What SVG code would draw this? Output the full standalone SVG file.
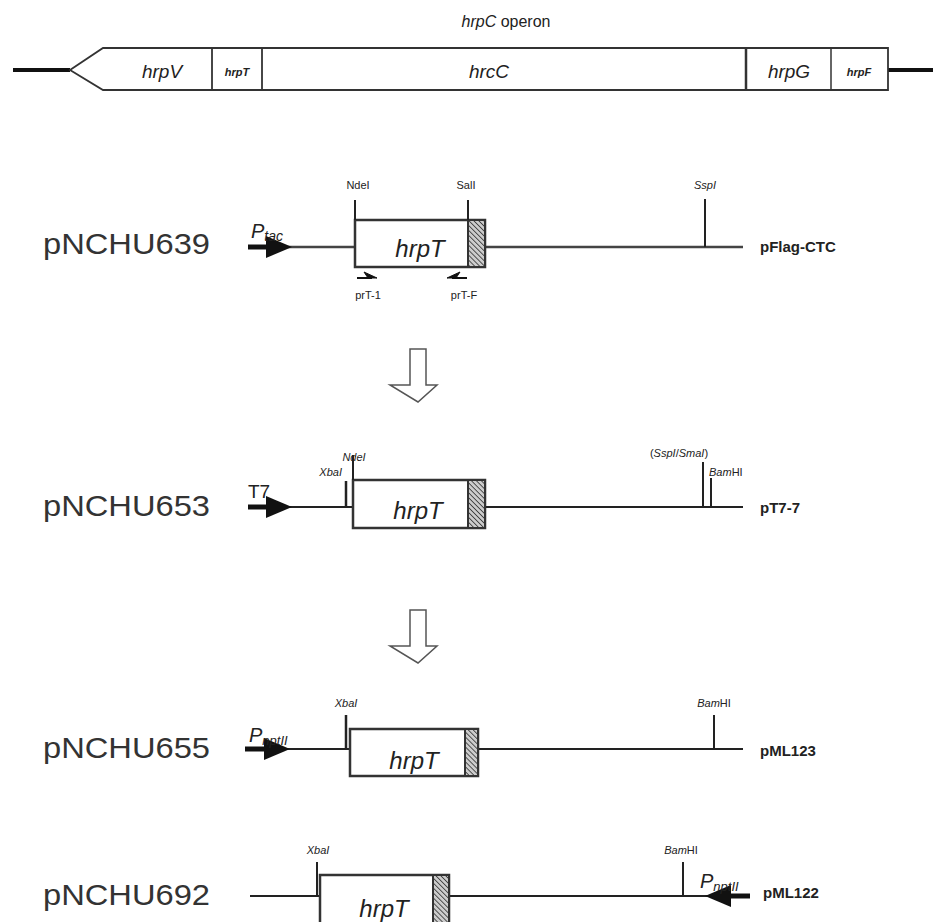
<svg xmlns="http://www.w3.org/2000/svg" width="933" height="922" viewBox="0 0 933 922">
<style>
text{font-family:"Liberation Sans",Arial,sans-serif;fill:#222}
.it{font-style:italic}
.bb{stroke:#444;stroke-width:2.5;fill:none}
.tk{stroke:#222;stroke-width:2;fill:none}
.box{fill:#fff;stroke:#333;stroke-width:2.5}
.name{font-size:30px;fill:#333}
.vec{font-size:15px;font-weight:bold}
.site{font-size:11px;font-style:italic}
.gene{font-size:24px;font-style:italic}
.prom{fill:#111}
</style>
<defs>
<pattern id="hatch" patternUnits="userSpaceOnUse" width="3.5" height="3.5" patternTransform="rotate(-45)">
<rect width="3.5" height="3.5" fill="#ccc"/>
<line x1="0" y1="0" x2="0" y2="3.5" stroke="#333" stroke-width="1.6"/>
</pattern>
</defs>

<g id="operon">
<text x="506" y="27" font-size="16" text-anchor="middle"><tspan class="it">hrpC</tspan> operon</text>
<line x1="13" y1="70" x2="70" y2="70" stroke="#111" stroke-width="4"/>
<line x1="888" y1="70" x2="933" y2="70" stroke="#111" stroke-width="4"/>
<path d="M70,70 L103,48 L888,48 L888,90 L103,90 Z" fill="#fff" stroke="#333" stroke-width="1.8"/>
<line x1="212" y1="48" x2="212" y2="90" stroke="#333" stroke-width="1.8"/>
<line x1="262" y1="48" x2="262" y2="90" stroke="#333" stroke-width="1.8"/>
<line x1="746" y1="48" x2="746" y2="90" stroke="#333" stroke-width="2.5"/>
<line x1="831" y1="48" x2="831" y2="90" stroke="#333" stroke-width="1.5"/>
<text x="162" y="78" font-size="19" class="it" text-anchor="middle">hrpV</text>
<text x="237" y="76" font-size="11" font-weight="bold" class="it" text-anchor="middle">hrpT</text>
<text x="489" y="78" font-size="19" class="it" text-anchor="middle">hrcC</text>
<text x="789" y="78" font-size="19" class="it" text-anchor="middle">hrpG</text>
<text x="859" y="76" font-size="11" font-weight="bold" class="it" text-anchor="middle">hrpF</text>
</g>

<g id="pNCHU639">
<text x="43" y="254" class="name" textLength="167" lengthAdjust="spacingAndGlyphs">pNCHU639</text>
<line x1="248" y1="247" x2="355" y2="247" class="bb"/>
<line x1="248" y1="247" x2="272" y2="247" stroke="#111" stroke-width="5"/>
<path d="M266,236 L292,247 L266,258 Z" class="prom"/>
<text x="251" y="238" font-size="20" class="it">P<tspan font-size="14" dy="3">tac</tspan></text>
<line x1="485" y1="247" x2="743" y2="247" class="bb"/>
<rect x="355" y="220" width="130" height="47" class="box"/>
<rect x="468" y="220" width="17" height="47" fill="url(#hatch)" stroke="#333" stroke-width="2"/>
<line x1="355" y1="200" x2="355" y2="220" class="tk"/>
<line x1="468" y1="200" x2="468" y2="220" class="tk"/>
<line x1="705" y1="199" x2="705" y2="247" class="tk"/>
<text x="358" y="189" font-size="11" text-anchor="middle">NdeI</text>
<text x="466" y="189" font-size="11" text-anchor="middle">SalI</text>
<text x="705" y="189" class="site" text-anchor="middle">SspI</text>
<text x="420" y="257" class="gene" text-anchor="middle">hrpT</text>
<text x="760" y="252" class="vec">pFlag-CTC</text>
<line x1="357" y1="278" x2="372" y2="278" stroke="#111" stroke-width="2"/>
<path d="M377,278 L364,272 L368,278 Z" fill="#111" stroke="#111" stroke-width="1"/>
<line x1="452" y1="278" x2="467" y2="278" stroke="#111" stroke-width="2"/>
<path d="M447,278 L460,272 L456,278 Z" fill="#111" stroke="#111" stroke-width="1"/>
<text x="368" y="299" font-size="11" text-anchor="middle">prT-1</text>
<text x="464" y="299" font-size="11" text-anchor="middle">prT-F</text>
</g>

<g id="pNCHU653">
<text x="43" y="516" class="name" textLength="167" lengthAdjust="spacingAndGlyphs">pNCHU653</text>
<line x1="248" y1="507" x2="353" y2="507" class="tk"/>
<line x1="248" y1="507" x2="272" y2="507" stroke="#111" stroke-width="5"/>
<path d="M266,496 L292,507 L266,518 Z" class="prom"/>
<text x="248" y="498" font-size="19">T7</text>
<line x1="485" y1="507" x2="743" y2="507" class="tk"/>
<rect x="353" y="480" width="132" height="48" class="box"/>
<rect x="468" y="480" width="17" height="48" fill="url(#hatch)" stroke="#333" stroke-width="2"/>
<line x1="346" y1="481" x2="346" y2="507" stroke="#222" stroke-width="2.5"/>
<line x1="353" y1="455" x2="353" y2="480" class="tk"/>
<text x="342" y="476" font-size="11" class="it" text-anchor="end">XbaI</text>
<text x="354" y="461" font-size="11" class="it" text-anchor="middle">NdeI</text>
<line x1="703" y1="462" x2="703" y2="507" class="tk"/>
<line x1="711" y1="478" x2="711" y2="507" class="tk"/>
<text x="679" y="457" font-size="11" text-anchor="middle">(<tspan class="it">SspI</tspan>/<tspan class="it">SmaI</tspan>)</text>
<text x="709" y="476" font-size="11"><tspan class="it">Bam</tspan>HI</text>
<text x="760" y="513" class="vec">pT7-7</text>
<text x="418" y="519" class="gene" text-anchor="middle">hrpT</text>
</g>

<g id="pNCHU655">
<text x="43" y="758" class="name" textLength="167" lengthAdjust="spacingAndGlyphs">pNCHU655</text>
<line x1="245" y1="749" x2="350" y2="749" class="tk"/>
<line x1="245" y1="749" x2="270" y2="749" stroke="#111" stroke-width="5"/>
<path d="M264,738 L290,749 L264,760 Z" class="prom"/>
<text x="249" y="742" font-size="20" class="it">P<tspan font-size="13" dy="3">nptII</tspan></text>
<line x1="478" y1="749" x2="743" y2="749" class="tk"/>
<rect x="350" y="729" width="128" height="47" class="box"/>
<rect x="465" y="729" width="13" height="47" fill="url(#hatch)" stroke="#333" stroke-width="2"/>
<line x1="346" y1="715" x2="346" y2="749" stroke="#222" stroke-width="2.5"/>
<line x1="714" y1="715" x2="714" y2="749" class="tk"/>
<text x="346" y="707" font-size="11" class="it" text-anchor="middle">XbaI</text>
<text x="714" y="707" font-size="11" text-anchor="middle"><tspan class="it">Bam</tspan>HI</text>
<text x="760" y="756" class="vec">pML123</text>
<text x="414" y="769" class="gene" text-anchor="middle">hrpT</text>
</g>

<g id="pNCHU692">
<text x="43" y="905" class="name" textLength="167" lengthAdjust="spacingAndGlyphs">pNCHU692</text>
<line x1="250" y1="896" x2="320" y2="896" class="tk"/>
<line x1="449" y1="896" x2="725" y2="896" class="tk"/>
<rect x="320" y="875" width="129" height="60" class="box"/>
<rect x="433" y="875" width="16" height="60" fill="url(#hatch)" stroke="#333" stroke-width="2"/>
<line x1="317" y1="862" x2="317" y2="896" class="tk"/>
<line x1="683" y1="862" x2="683" y2="896" class="tk"/>
<text x="318" y="854" font-size="11" class="it" text-anchor="middle">XbaI</text>
<text x="681" y="854" font-size="11" text-anchor="middle"><tspan class="it">Bam</tspan>HI</text>
<line x1="725" y1="896" x2="750" y2="896" stroke="#111" stroke-width="5"/>
<path d="M731,885 L705,896 L731,907 Z" class="prom"/>
<text x="700" y="888" font-size="20" class="it">P<tspan font-size="13" dy="3">nptII</tspan></text>
<text x="763" y="898" class="vec">pML122</text>
<text x="384" y="917" class="gene" text-anchor="middle">hrpT</text>
</g>

<g id="connectors" fill="#fff" stroke="#555" stroke-width="1.5">
<path d="M410,349 L426,349 L426,385 L437,385 L418,402 L390,385 L410,385 Z"/>
<path d="M410,610 L426,610 L426,646 L437,646 L418,663 L390,646 L410,646 Z"/>
</g>
</svg>
